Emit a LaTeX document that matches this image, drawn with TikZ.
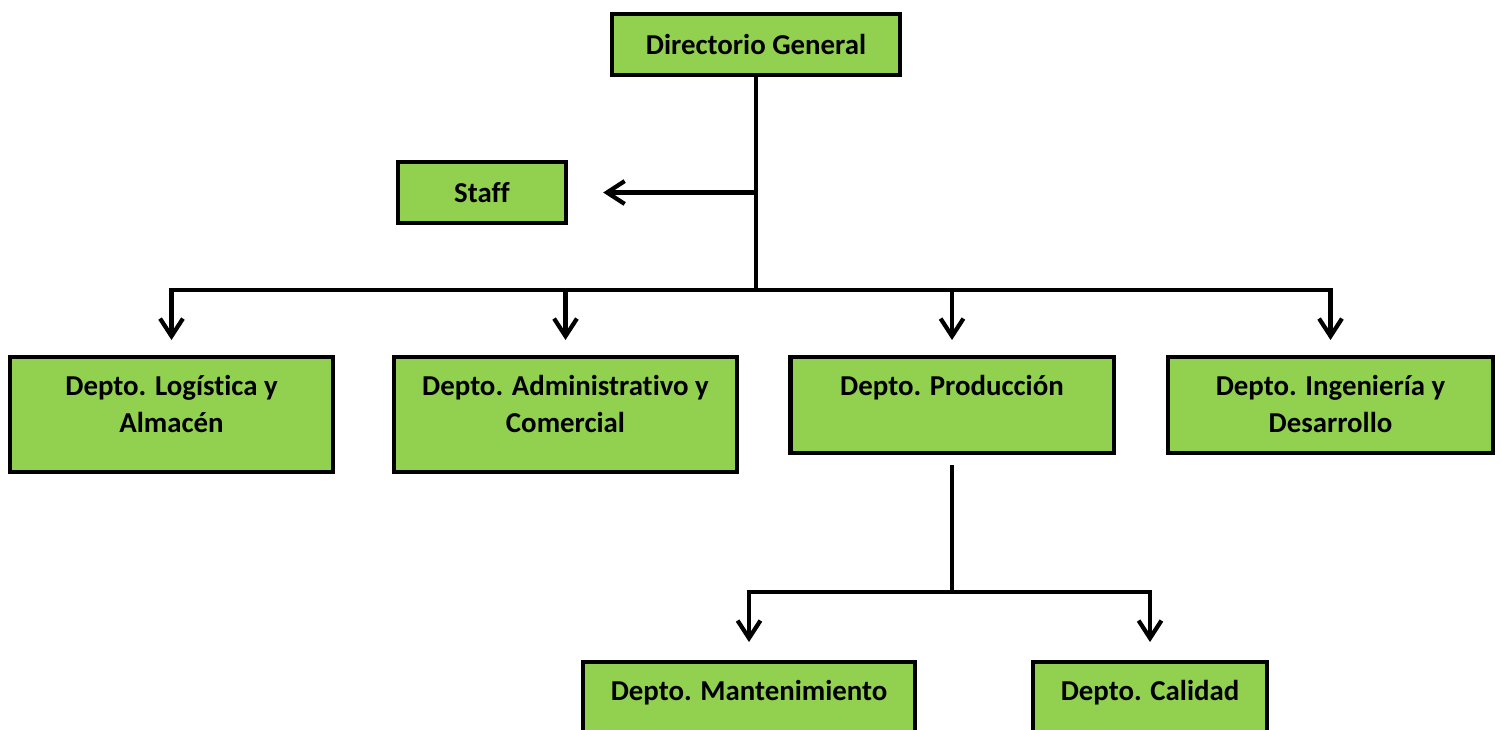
\documentclass[tikz,border=0pt]{standalone}
\usepackage{fontspec}
\setmainfont{Carlito}[Ligatures=NoCommon]
\usetikzlibrary{arrows.meta, positioning}
\definecolor{OrgGreen}{HTML}{92D050}

% box with text set from the top
\newcommand{\deptbox}[3]{\parbox[t][#2][t]{#1}{\centering\rule{0pt}{11pt}#3}}

\tikzset{
    unit/.style={draw, fill=OrgGreen, line width=1.2pt, inner sep=0pt,
        font=\bfseries\fontsize{8.2}{10.5}\selectfont},
    link/.style={line width=1.2pt},
    flow/.style={link, -{Straight Barb[length=5pt, width=6.5pt]}, shorten >=0.15cm}
}

\begin{document}
\begin{tikzpicture}[x=0.01cm, y=-0.01cm]
    \useasboundingbox (0,0) rectangle (1501,729);
    \clip (0,0) rectangle (1501,729);

    % Top level
    \node[unit, minimum width=2.88cm, minimum height=0.61cm] (dir) at (756,44.5) {Directorio General};
    \node[unit, minimum width=1.68cm, minimum height=0.61cm] (staff) at (482,192.5) {Staff};

    % Departments
    \node[unit, anchor=north] (log) at (171.5,355) {\deptbox{3.23cm}{1.15cm}{Depto. Logística y\\Almacén}};
    \node[unit, anchor=north] (adm) at (565.5,355) {\deptbox{3.43cm}{1.15cm}{Depto. Administrativo y\\Comercial}};
    \node[unit, anchor=north] (prod) at (952,355) {\deptbox{3.23cm}{0.96cm}{Depto. Producción}};
    \node[unit, anchor=north] (ing) at (1330.5,355) {\deptbox{3.25cm}{0.96cm}{Depto. Ingeniería y\\Desarrollo}};

    % Under Produccion
    \node[unit, anchor=north] (mant) at (749,660) {\deptbox{3.32cm}{1.2cm}{Depto. Mantenimiento}};
    \node[unit, anchor=north] (cal) at (1150,660) {\deptbox{2.34cm}{1.2cm}{Depto. Calidad}};

    % Connectors
    \coordinate (hub) at (dir.south |- 0,290);
    \coordinate (split) at (dir.south |- 0,192.5);
    \draw[link] (dir.south) -- (hub);
    \draw[flow, shorten >=0.35cm] (split) -- (staff.east);
    \foreach \d in {log, adm, prod, ing}
        \draw[flow] (hub) -| (\d.north);

    \coordinate (prodhub) at (prod.south |- 0,592);
    \draw[link, shorten <=0.1cm] (prod.south) -- (prodhub);
    \foreach \d in {mant, cal}
        \draw[flow, shorten >=0.18cm] (prodhub) -| (\d.north);
\end{tikzpicture}
\end{document}
